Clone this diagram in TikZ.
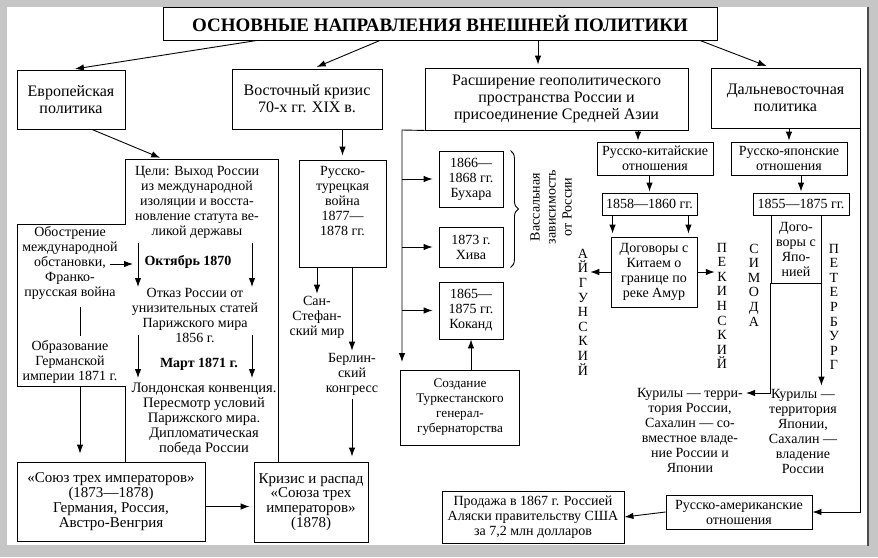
\documentclass[tikz,border=0pt]{standalone}
\usepackage{fontspec}
\setmainfont{Liberation Serif}
\usetikzlibrary{arrows.meta}
\usetikzlibrary{decorations.pathreplacing}

\begin{document}
\begin{tikzpicture}[x=1pt,y=-1pt]

    \tikzstyle{box} = [draw, line width=0.9pt, align=center, inner sep=0pt, font=\fontsize{14}{15}\selectfont]
    \tikzstyle{head} = [box, font=\fontsize{16}{17}\selectfont]
    \tikzstyle{bigbox} = [box, font=\fontsize{15}{14.8}\selectfont]
    \tikzstyle{txt} = [align=center, inner sep=0pt, font=\fontsize{14}{15}\selectfont]
    \tikzstyle{letters} = [align=center, inner sep=0pt, font=\fontsize{14}{14.6}\selectfont]
    \tikzstyle{ln} = [line width=0.9pt]
    \tikzstyle{arr} = [line width=0.9pt, -{Latex[length=9pt,width=6.5pt]}]

    % Frame
    \useasboundingbox (0,0) rectangle (878,557);
    \fill[gray!45] (0,0) rectangle (878,557);
    \fill[white] (7,7) rectangle (868,545);
    \draw[black!70, line width=1.2pt] (868,7) -- (868,546);

    % Title
    \node[box, minimum width=554pt, minimum height=33pt, font=\bfseries\fontsize{19}{20}\selectfont] at (440,23.5) (title) {ОСНОВНЫЕ НАПРАВЛЕНИЯ ВНЕШНЕЙ ПОЛИТИКИ};

    % Main directions
    \node[head, minimum width=108pt, minimum height=59pt] at (71,99.5) (europe) {Европейская\\политика};
    \node[head, minimum width=150pt, minimum height=60pt] at (307,99) (east) {Восточный кризис\\70-х гг. XIX в.};
    \node[head, minimum width=263pt, minimum height=62pt] at (556.5,99) (expand) {Расширение геополитического\\пространства России и\\присоединение Средней Азии};
    \node[head, minimum width=149pt, minimum height=60pt] at (785.5,98) (fareast) {Дальневосточная\\политика};

    % European policy
    \coordinate (g1) at (125,159);
    \coordinate (g2) at (278,159);
    \coordinate (g3) at (278,462);
    \coordinate (g4) at (125,462);
    \coordinate (g5) at (125,386);
    \coordinate (g6) at (17,386);
    \coordinate (g7) at (17,224);
    \coordinate (g8) at (125,224);
    \draw[ln] (g4) -- (g5) -- (g6) -- (g7) -- (g8) -- (g1) -- (g2) -- (g3);

    \node[txt] at (197,202) (goals) {Цели: Выход России\\из международной\\изоляции и восста-\\новление статута ве-\\ликой державы};
    \node[txt] at (70,263) (crisisintl) {Обострение\\международной\\обстановки,\\Франко-\\прусская война};
    \node[txt] at (70,362) (german) {Образование\\Германской\\империи 1871 г.};
    \node[txt, font=\bfseries\fontsize{14}{15}\selectfont] at (188,262) (oct) {Октябрь 1870};
    \node[txt] at (195,315) (refuse) {Отказ России от\\унизительных статей\\Парижского мира\\1856 г.};
    \node[txt, font=\bfseries\fontsize{14}{15}\selectfont] at (199,364) (march) {Март 1871 г.};
    \node[txt, font=\fontsize{14.5}{15}\selectfont] at (204,419) (london) {Лондонская конвенция.\\Пересмотр условий\\Парижского мира.\\Дипломатическая\\победа России};

    \node[bigbox, minimum width=188pt, minimum height=79pt] at (111,501.5) (union) {«Союз трех императоров»\\(1873—1878)\\Германия, Россия,\\Австро-Венгрия};
    \node[bigbox, minimum width=114pt, minimum height=80pt] at (311,502) (collapse) {Кризис и распад\\«Союза трех\\императоров»\\(1878)};

    \coordinate (a1) at (138,243);
    \coordinate (a2) at (138,287);
    \coordinate (b1) at (252,243);
    \coordinate (b2) at (252,287);
    \coordinate (c1) at (138,335);
    \coordinate (c2) at (138,378);
    \coordinate (d1) at (252,335);
    \coordinate (d2) at (252,378);
    \coordinate (o1) at (110,264);
    \coordinate (o2) at (133,264);
    \coordinate (obbot) at (80,386);

    % Eastern crisis
    \node[box, minimum width=87pt, minimum height=107pt] at (342.5,213.5) (rtwar) {};
    \node[txt] at (342.5,201) (rtwartxt) {Русско-\\турецкая\\война\\1877—\\1878 гг.};
    \node[txt] at (317,317) (sanstef) {Сан-\\Стефан-\\ский мир};
    \node[txt] at (352,374) (berlin) {Берлин-\\ский\\конгресс};

    % Central Asia
    \coordinate (trunk) at (402,130);
    \coordinate (trunkend) at (402,362);
    \node[box, minimum width=64pt, minimum height=56pt] at (471,179) (bukhara) {1866—\\1868 гг.\\Бухара};
    \node[box, minimum width=64pt, minimum height=40pt] at (471,247) (khiva) {1873 г.\\Хива};
    \node[box, minimum width=64pt, minimum height=57pt] at (471,310.5) (kokand) {1865—\\1875 гг.\\Коканд};
    \node[box, minimum width=119pt, minimum height=75pt, font=\fontsize{13.2}{15}\selectfont] at (460,407.5) (turk) {Создание\\Туркестанского\\генерал-\\губернаторства};
    \node[txt, rotate=90, font=\fontsize{14}{16}\selectfont] at (551,207) (vassal) {Вассальная\\зависимость\\от России};

    % Russia and China
    \node[box, minimum width=116pt, minimum height=33pt] at (655,158.5) (rucn) {Русско-китайские\\отношения};
    \node[box, minimum width=95pt, minimum height=22pt] at (649.5,204) (y1858) {1858—1860 гг.};
    \node[box, minimum width=86pt, minimum height=70pt] at (654,272) (treatycn) {Договоры с\\Китаем о\\границе по\\реке Амур};
    \node[letters] at (583,312) (aigun) {А\\Й\\Г\\У\\Н\\С\\К\\И\\Й};
    \node[letters] at (722,306) (peking) {П\\Е\\К\\И\\Н\\С\\К\\И\\Й};

    % Russia and Japan
    \node[box, minimum width=116pt, minimum height=33pt] at (789,158.5) (rujp) {Русско-японские\\отношения};
    \node[box, minimum width=96pt, minimum height=22pt] at (801,204) (y1855) {1855—1875 гг.};
    \node[box, minimum width=50pt, minimum height=68pt] at (796,249) (treatyjp) {Дого-\\воры с\\Япо-\\нией};
    \node[letters] at (754,285) (shimoda) {С\\И\\М\\О\\Д\\А};
    \node[letters] at (834,307) (peter) {П\\Е\\Т\\Е\\Р\\Б\\У\\Р\\Г};
    \node[txt] at (690,430) (kurils1) {Курилы — терри-\\тория России,\\Сахалин — со-\\вместное владе-\\ние России и\\Японии};
    \node[txt] at (803,431) (kurils2) {Курилы —\\территория\\Японии,\\Сахалин —\\владение\\России};
    \coordinate (kur1) at (746,393);

    % Russia and America
    \node[box, minimum width=146pt, minimum height=34pt] at (739,512) (ruam) {Русско-американские\\отношения};
    \node[box, minimum width=182pt, minimum height=52pt] at (533,517) (sale) {Продажа в 1867 г. Россией\\Аляски правительству США\\за 7,2 млн долларов};

    % Arrows
    \draw[arr, shorten >=4pt] ([xshift=-183pt]title.south) -- (europe.north);
    \draw[arr, shorten >=4pt] ([xshift=-60pt]title.south) -- ([xshift=6pt]east.north);
    \draw[arr, shorten >=3pt] ([xshift=98pt]title.south) -- ([xshift=98pt]title.south |- expand.north);
    \draw[arr, shorten >=4pt] ([xshift=260pt]title.south) -- ([xshift=-15pt]fareast.north);

    \draw[arr, shorten >=3pt] ([xshift=21pt]europe.south) -- ([xshift=38pt]g1);
    \draw[arr] (a1) -- (a2);
    \draw[arr] (b1) -- (b2);
    \draw[arr] (c1) -- (c2);
    \draw[arr] (d1) -- (d2);
    \draw[arr] (o1) -- (o2);
    \draw[ln] ([xshift=10pt,yshift=-7pt]crisisintl.south) -- ([xshift=10pt,yshift=4pt]german.north);
    \draw[arr, shorten >=8pt] (obbot) -- (obbot |- union.north);
    \draw[arr, shorten >=4pt] ([yshift=-5pt]union.east) -- ([yshift=-5pt]union.east -| collapse.west);

    \draw[arr, shorten >=4pt] (rtwar.north |- east.south) -- (rtwar.north);
    \draw[arr, shorten >=2pt] (rtwar.south -| sanstef.north) -- (sanstef.north);
    \draw[arr, shorten >=2pt] (rtwar.south -| berlin.north) -- (berlin.north);
    \draw[arr, shorten >=9pt] ([yshift=-4pt]berlin.south) -- ([yshift=-4pt]berlin.south |- collapse.north);

    \draw[arr] (expand.south west) -- (trunk) -- (trunkend);
    \draw[arr, shorten >=6pt] (trunk |- bukhara.west) -- (bukhara.west);
    \draw[arr, shorten >=6pt] (trunk |- khiva.west) -- (khiva.west);
    \draw[arr, shorten >=6pt] (trunk |- kokand.west) -- (kokand.west);
    \draw[arr] (turk.north -| kokand.south) -- (kokand.south);
    \draw[ln, decorate, decoration={brace, amplitude=8pt}] ([xshift=7pt]bukhara.north east) -- ([xshift=7pt]khiva.south east);

    \draw[arr, shorten >=1pt] ([xshift=-17pt]rucn.north |- expand.south) -- ([xshift=-17pt]rucn.north);
    \draw[arr, shorten >=1pt] (y1858.north |- rucn.south) -- (y1858.north);
    \draw[arr, shorten >=3pt] ([xshift=2pt]treatycn.north west |- y1858.south) -- ([xshift=2pt]treatycn.north west);
    \draw[arr, shorten >=3pt] ([xshift=-9pt]treatycn.north east |- y1858.south) -- ([xshift=-9pt]treatycn.north east);
    \draw[arr, shorten >=2pt] (treatycn.west) -- (treatycn.west -| aigun.east);
    \draw[arr, shorten >=2pt] (treatycn.east) -- (treatycn.east -| peking.west);

    \draw[arr, shorten >=1pt] (rujp.north |- fareast.south) -- (rujp.north);
    \draw[arr, shorten >=1pt] (y1855.north |- rujp.south) -- (y1855.north);
    \draw[arr] (treatyjp.south west) |- (kur1);
    \draw[arr, shorten >=3pt] (treatyjp.south east) -- (treatyjp.south east |- kurils2.north);

    \draw[arr] (fareast.south east) |- (ruam.east);
    \draw[arr] (ruam.west) -- (sale.east);

\end{tikzpicture}
\end{document}
